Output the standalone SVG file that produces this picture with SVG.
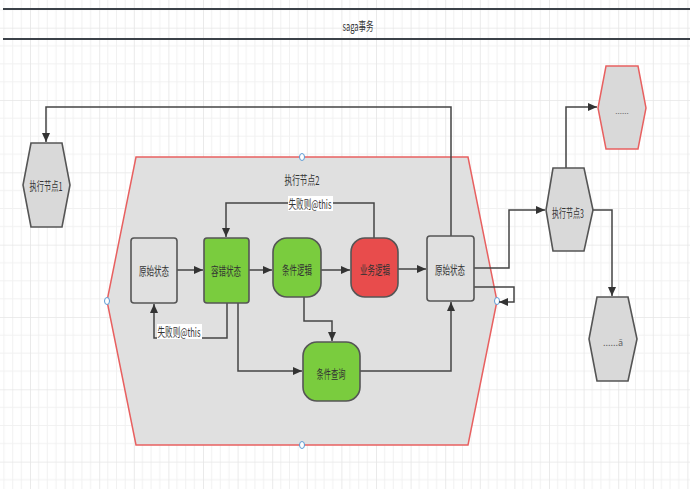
<svg xmlns="http://www.w3.org/2000/svg" width="690" height="489" viewBox="0 0 690 489">
<defs>
<pattern id="grid" x="-4.6" y="27.7" width="34.6" height="72.32" patternUnits="userSpaceOnUse">
<path d="M8.65 0V72.32M17.3 0V72.32M25.95 0V72.32M0 18.08H34.6M0 36.16H34.6M0 54.24H34.6" stroke="#f1f1f1" stroke-width="1" fill="none"/>
<path d="M0 0V72.32M0 0H34.6" stroke="#e6e6e6" stroke-width="1.6" fill="none"/>
</pattern>
<marker id="arr" markerUnits="userSpaceOnUse" markerWidth="10" markerHeight="10" refX="9" refY="4" orient="auto">
<path d="M0,0 L9,4 L0,8 z" fill="#333"/>
</marker>
<style>
.t{font-family:"Noto Sans CJK SC","Liberation Sans",sans-serif;font-size:12px;fill:#333;text-anchor:middle;dominant-baseline:central}
.hex{fill:#d9d9d9;stroke:#555;stroke-width:1.6}
.box{stroke:#555;stroke-width:1.6}
.gray{fill:#e0e0e0}
.green{fill:#7acc3e}
.red{fill:#e84c4c}
.c{fill:none;stroke:#444;stroke-width:1.5;marker-end:url(#arr)}
.cn{fill:none;stroke:#444;stroke-width:1.5}
.h{fill:#fff;stroke:#5b9bd5;stroke-width:1}
.lbl{fill:#fff}
</style>
</defs>
<rect width="690" height="489" fill="#fff"/>
<rect width="690" height="489" fill="url(#grid)"/>

<g id="header">
<line x1="3" y1="9" x2="690" y2="9" stroke="#3b4148" stroke-width="2"/>
<line x1="3" y1="39" x2="690" y2="39" stroke="#3b4148" stroke-width="2"/>
<text class="t" x="358" y="25" textLength="31" lengthAdjust="spacingAndGlyphs">saga事务</text>
</g>

<g id="node2">
<polygon points="136,157 468,157 497,301 468,445 136,445 107,301" fill="#e0e0e0" stroke="#e86060" stroke-width="1.5"/>
<text class="t" x="302" y="179" textLength="35" lengthAdjust="spacingAndGlyphs">执行节点2</text>
<ellipse class="h" cx="302" cy="157" rx="2.5" ry="3.5"/>
<ellipse class="h" cx="302" cy="445" rx="2.5" ry="3.5"/>
<ellipse class="h" cx="107" cy="301" rx="2.5" ry="3.5"/>
<ellipse class="h" cx="497" cy="301" rx="2.5" ry="3.5"/>
</g>

<g id="connectors">
<path class="c" d="M451,236 V107 H46 V142"/>
<path class="c" d="M177,270 H203"/>
<path class="c" d="M249,270 H272"/>
<path class="c" d="M321,270 H350"/>
<path class="c" d="M398,269 H426"/>
<path class="c" d="M374,238 V203 H226 V237"/>
<path class="c" d="M227,303 V338 H154 V304"/>
<path class="c" d="M238,303 V371 H302"/>
<path class="c" d="M304,297 V321 H332 V341"/>
<path class="c" d="M360,371 H451 V302"/>
<path class="c" d="M474,268 H509 V210 H545"/>
<path class="c" d="M471,287 H514 V302 H499"/>
<path class="c" d="M566,168 V107 H597"/>
<path class="c" d="M593,210 H612 V296"/>
<rect class="lbl" x="288" y="196" width="45" height="15"/>
<text class="t" x="310" y="203" textLength="43" lengthAdjust="spacingAndGlyphs">失败则@this</text>
<rect class="lbl" x="157" y="324" width="45" height="15"/>
<text class="t" x="179" y="331" textLength="43" lengthAdjust="spacingAndGlyphs">失败则@this</text>
</g>

<g id="node1">
<polygon class="hex" points="31,143 62,143 70,185 62,227 31,227 23,185"/>
<text class="t" x="46" y="185" textLength="33" lengthAdjust="spacingAndGlyphs">执行节点1</text>
</g>

<g id="orig1">
<rect class="box gray" x="131" y="238" width="46" height="65" rx="3"/>
<text class="t" x="154" y="270" textLength="30" lengthAdjust="spacingAndGlyphs">原始状态</text>
</g>
<g id="fault">
<rect class="box green" x="204" y="238" width="45" height="65" rx="3"/>
<text class="t" x="226" y="270" textLength="30" lengthAdjust="spacingAndGlyphs">容错状态</text>
</g>
<g id="cond">
<rect class="box green" x="273" y="238" width="48" height="59" rx="14"/>
<text class="t" x="297" y="269" textLength="30" lengthAdjust="spacingAndGlyphs">条件逻辑</text>
</g>
<g id="biz">
<rect class="box red" x="351" y="238" width="47" height="59" rx="14"/>
<text class="t" x="375" y="269" textLength="30" lengthAdjust="spacingAndGlyphs">业务逻辑</text>
</g>
<g id="orig2">
<rect class="box gray" x="427" y="236" width="47" height="65" rx="3"/>
<text class="t" x="450" y="269" textLength="30" lengthAdjust="spacingAndGlyphs">原始状态</text>
</g>
<g id="query">
<rect class="box green" x="303" y="342" width="57" height="59" rx="14"/>
<text class="t" x="331" y="373" textLength="29" lengthAdjust="spacingAndGlyphs">条件查询</text>
</g>

<g id="node3">
<polygon class="hex" points="553,168 584,168 593,210 584,251 553,251 546,210"/>
<text class="t" x="568" y="212" textLength="32" lengthAdjust="spacingAndGlyphs">执行节点3</text>
</g>
<g id="nodeTop">
<polygon points="606,66 638,66 646,108 638,149 606,149 598,108" fill="#d9d9d9" stroke="#e86060" stroke-width="1.5"/>
<text class="t" x="622" y="110" style="font-size:8px;fill:#666">......</text>
</g>
<g id="nodeBottom">
<polygon class="hex" points="597,297 628,297 637,339 628,381 597,381 589,339"/>
<text class="t" x="613" y="342" style="font-size:9px;fill:#666">......ā</text>
</g>
</svg>
